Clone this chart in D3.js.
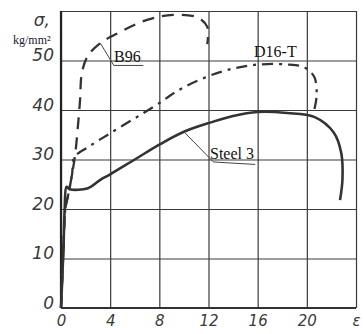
<!DOCTYPE html>
<html>
<head>
<meta charset="utf-8">
<script src="https://cdn.jsdelivr.net/npm/d3@7"></script>
<style>
body { margin: 0; background: #fff; }
svg { display: block; }
.grid line { stroke: #3a3a3a; stroke-width: 1.2; }
.grid path { display: none; }
.grid text { font-family: "DejaVu Sans", sans-serif; font-style: italic; font-size: 17px; fill: #3a3a3a; }
.lbl { font-family: "Liberation Serif", serif; font-size: 16px; fill: #111; }
</style>
</head>
<body>
<script>
// strain ticks (%), stress ticks (kg/mm2)
const xTicks = [0, 4, 8, 12, 16, 20, 24];
const xTickLabels = ['0', '4', '8', '12', '16', '20', 'ε'];
const yTicks = [0, 10, 20, 30, 40, 50, 60];
const yTickLabels = ['0', '10', '20', '30', '40', '50', 'σ,'];

// curves: [strain, stress]
const steel3 = [[0,0],[0.2,12],[0.3,20],[0.45,24.5],[0.7,24],[2.2,24.2],[3.2,25.9],[4,27],[6,30],[8,33],[10,35.6],[12.2,37.5],[14,38.8],[16,39.6],[18.4,39.4],[20.6,38.6],[22.2,35.4],[22.8,31.3],[22.9,26],[22.7,21.8]];
const d16t = [[0,0],[0.2,12],[0.35,20],[0.6,23],[0.9,27],[1.1,30.5],[2.2,32.5],[4,35.3],[7.5,40.6],[10,44.6],[13,47.7],[15.7,49.1],[18.4,49.2],[19.8,48.6],[20.6,46.7],[20.8,43],[20.6,40]];
const b96 = [[0,0],[0.2,12],[0.35,20],[0.6,23],[0.9,27],[1.15,31],[1.35,36],[1.55,42],[1.7,47.5],[2.2,51],[3.2,53.5],[4.6,55.5],[7,58.2],[9.1,59.2],[11.1,58.7],[11.9,56.8],[11.9,53.3]];

const W = 364, H = 334;
const svg = d3.select('body').append('svg').attr('width', W).attr('height', H);

const x = d3.scaleLinear().domain([0, 24]).range([61, 356]);
const y = d3.scaleLinear().domain([0, 60]).range([308, 11]);

// grid
svg.append('g').attr('class', 'grid')
	.attr('transform', 'translate(0,' + y(0) + ')')
	.call(d3.axisBottom(x).tickValues(xTicks).tickSize(-(y(0) - y(60))).tickPadding(4)
		.tickFormat(function(d, i){ return xTickLabels[i] }))
	.selectAll('text').attr('dy', '0.92em').style('font-size', '15px');

const yg = svg.append('g').attr('class', 'grid')
	.attr('transform', 'translate(' + x(0) + ',0)')
	.call(d3.axisLeft(y).tickValues(yTicks).tickSize(-(x(24) - x(0))).tickPadding(7)
		.tickFormat(function(d, i){ return yTickLabels[i] }));
yg.selectAll('text').attr('dy', function(d){ return d === 60 ? '0.85em' : '0.02em' })
	.attr('x', function(d){ return d === 60 ? -11 : -7 });

// frame
svg.append('line').attr('x1', x(0)).attr('x2', x(0)).attr('y1', y(0)).attr('y2', y(60))
	.style('stroke', '#222').style('stroke-width', 2.2);
svg.append('line').attr('x1', x(0)).attr('x2', x(24)).attr('y1', y(0)).attr('y2', y(0))
	.style('stroke', '#333').style('stroke-width', 1.8);

svg.append('text').attr('class', 'lbl').attr('x', 13).attr('y', 44)
	.style('font-size', '12px').style('fill', '#1a1a3a').text('kg/mm²');

const line = d3.line()
	.x(function(d){ return x(d[0]) })
	.y(function(d){ return y(d[1]) })
	.curve(d3.curveCatmullRom.alpha(0.5));

svg.append('path').datum(steel3).attr('d', line)
	.style('fill', 'none').style('stroke', '#333').style('stroke-width', 2.6);
svg.append('path').datum(d16t).attr('d', line)
	.style('fill', 'none').style('stroke', '#333').style('stroke-width', 2.3)
	.style('stroke-dasharray', '11,6,3,6');
svg.append('path').datum(b96).attr('d', line)
	.style('fill', 'none').style('stroke', '#333').style('stroke-width', 2.3)
	.style('stroke-dasharray', '12,8');

// labels with leader lines
function leader(pts){
	svg.append('path').attr('d', d3.line()(pts))
		.style('fill', 'none').style('stroke', '#444').style('stroke-width', 1);
}
leader([[x(3.2), y(53.5)], [x(4.3), y(49)], [x(6.7), y(49)]]);
svg.append('text').attr('class', 'lbl').attr('x', 114).attr('y', 62).text('B96');

leader([[x(10), y(35.6)], [x(12.4), y(29.5)], [x(15.8), y(29)]]);
svg.append('text').attr('class', 'lbl').attr('x', 210).attr('y', 159).text('Steel 3');

svg.append('text').attr('class', 'lbl').attr('x', 254).attr('y', 57).text('D16-T');
</script>
</body>
</html>
